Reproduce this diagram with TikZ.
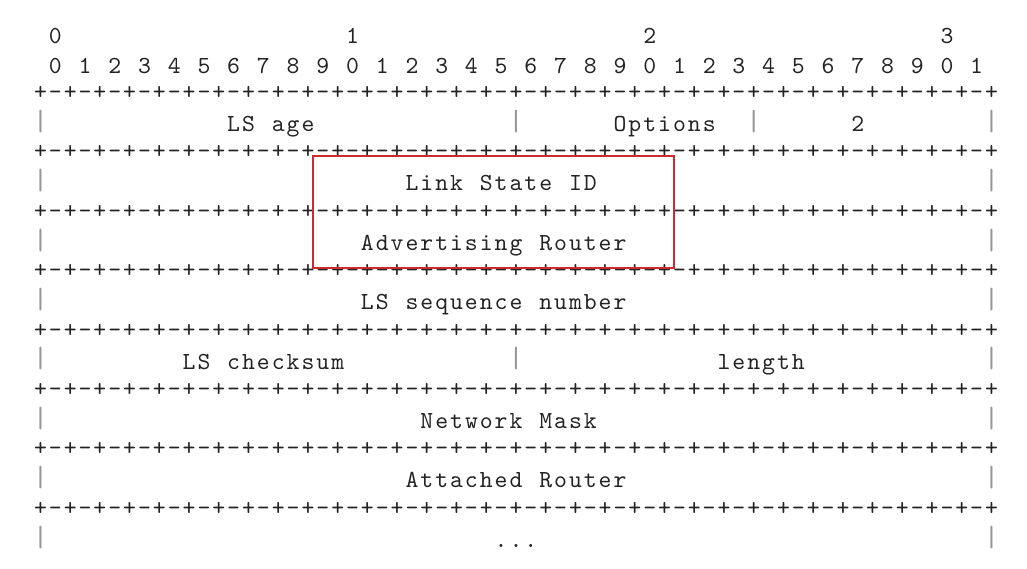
\documentclass[tikz,border=0pt]{standalone}
\usepackage{fontspec}
\newfontfamily\diafont{lmmono10-regular.otf}
\definecolor{ink}{RGB}{35,35,35}
\definecolor{pipegray}{RGB}{150,150,150}
\definecolor{boxred}{RGB}{208,40,48}
\newlength\cpitch
\setlength\cpitch{11.145pt}
\ExplSyntaxOn
\str_new:N \l_rfc_str
\NewDocumentCommand\rfcline{m}
 {
  \str_set:Nx \l_rfc_str {#1}
  \str_map_inline:Nn \l_rfc_str
   { \makebox[\cpitch][c]{##1} }
 }
\ExplSyntaxOff
\newcommand\plusrule{+-+-+-+-+-+-+-+-+-+-+-+-+-+-+-+-+-+-+-+-+-+-+-+-+-+-+-+-+-+-+-+-+}
\newcommand\cx[1]{33.07+14.86*#1}
\tikzset{
  rfc/.style={inner sep=0pt, outer sep=0pt, anchor=base west, text=ink,
    font=\diafont\fontsize{18.4pt}{22pt}\selectfont},
  rfcpipe/.style={rfc, text=pipegray, font=\diafont\fontsize{22pt}{26pt}\selectfont},
  hilite/.style={draw=boxred, line width=1.65pt},
}
\begin{document}
\begin{tikzpicture}[x=0.75pt,y=-0.75pt]
\useasboundingbox (0,0) rectangle (1027,568);
% header
\node[rfc] (h0a) at ({\cx{1}},43.8) {\rfcline{0}};
\node[rfc] (h0b) at ({\cx{21}},43.8) {\rfcline{1}};
\node[rfc] (h0c) at ({\cx{41}},43.8) {\rfcline{2}};
\node[rfc] (h0d) at ({\cx{61}},43.8) {\rfcline{3}};
\node[rfc] (h1) at ({\cx{1}},73.8) {\rfcline{0 1 2 3 4 5 6 7 8 9 0 1 2 3 4 5 6 7 8 9 0 1 2 3 4 5 6 7 8 9 0 1}};
% separator rows
\foreach \r in {0,...,7}
  \node[rfc] (plus\r) at ({\cx{0}},{99.4+59.4*\r}) {\rfcline{\plusrule}};
% outer pipes
\foreach \t in {0,...,7} {
  \node[rfcpipe] (pl\t) at ({\cx{0}},{130.3+59.4*\t}) {\rfcline{|}};
  \node[rfcpipe] (pr\t) at ({\cx{64}},{130.3+59.4*\t}) {\rfcline{|}};
}
% inner pipes
\node[rfcpipe] (pm0a) at ({\cx{32}},130.3) {\rfcline{|}};
\node[rfcpipe] (pm0b) at ({\cx{48}},130.3) {\rfcline{|}};
\node[rfcpipe] (pm4) at ({\cx{32}},{130.3+59.4*4}) {\rfcline{|}};
% field texts
\node[rfc] (age) at ({\cx{13}},131.5) {\rfcline{LS age}};
\node[rfc] (opt) at ({\cx{39}},131.5) {\rfcline{Options}};
\node[rfc] (typ) at ({\cx{55}},131.5) {\rfcline{2}};
\node[rfc] (lsid) at ({\cx{25}},{131.5+59.4}) {\rfcline{Link State ID}};
\node[rfc] (adv) at ({\cx{22}},{131.5+59.4*2}) {\rfcline{Advertising Router}};
\node[rfc] (seq) at ({\cx{22}},{131.5+59.4*3}) {\rfcline{LS sequence number}};
\node[rfc] (chk) at ({\cx{10}},{131.5+59.4*4}) {\rfcline{LS checksum}};
\node[rfc] (len) at ({\cx{46}},{131.5+59.4*4}) {\rfcline{length}};
\node[rfc] (mask) at ({\cx{26}},{131.5+59.4*5}) {\rfcline{Network Mask}};
\node[rfc] (att) at ({\cx{25}},{131.5+59.4*6}) {\rfcline{Attached Router}};
\node[rfc] (more) at ({\cx{31}},{131.5+59.4*7}) {\rfcline{...}};
% highlight box
\draw[hilite] (313.3,156) rectangle (674,268.3);
\end{tikzpicture}
\end{document}
